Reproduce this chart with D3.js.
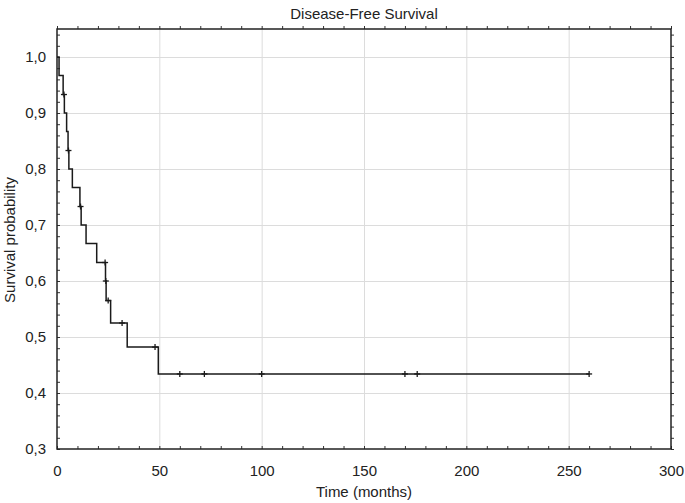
<!DOCTYPE html>
<html>
<head>
<meta charset="utf-8">
<script src="https://cdn.jsdelivr.net/npm/d3@7"></script>
<style>
  body { margin: 0; background: #fff; }
  svg text { font-family: "Liberation Sans", Arial, sans-serif; fill: #222; }
</style>
</head>
<body>
<div id="chart"></div>
<script>
// Kaplan-Meier steps: time (months) and survival after the drop
var stepTimes = [0, 1, 3, 3.6, 4.7, 5.4, 5.8, 7.5, 11.2, 11.8, 14.2, 19.4, 23.7, 24.0, 26.2, 34.3, 49.5];
var stepSurv  = [1.0, 0.967, 0.933, 0.9, 0.867, 0.833, 0.8, 0.767, 0.733, 0.7, 0.667, 0.633, 0.6, 0.565, 0.525, 0.482, 0.434];
var lastTime = 260;
// censored observations (+ marks)
var censorTimes = [3.4, 5.6, 11.5, 23.5, 23.85, 25, 31.8, 47.9, 60, 72, 100, 170, 176, 260];

var xTicks = [0, 50, 100, 150, 200, 250, 300];
var yTicks = [0.3, 0.4, 0.5, 0.6, 0.7, 0.8, 0.9, 1.0];

const width = 685
const height = 503
const margin = ({top: 29, right: 14, bottom: 54, left: 57})

var x = d3.scaleLinear().domain([0, 300]).range([margin.left, width - margin.right])
var y = d3.scaleLinear().domain([0.3, 1.05]).range([height - margin.bottom, margin.top])

var locale = d3.formatLocale({decimal: ",", thousands: ".", grouping: [3], currency: ["", ""]});
var fmt = locale.format(".1f");

const svg = d3.select('#chart').append('svg').attr('width', width).attr('height', height);

var iw = x.range()[1] - x.range()[0];
var ih = y.range()[0] - y.range()[1];

// grid lines
svg.append('g')
  .attr('transform', `translate(0, ${y.range()[0]})`)
  .call(d3.axisBottom(x).tickValues(xTicks.slice(1, -1)).tickSize(-ih).tickFormat(''))
  .call(g => g.select('.domain').remove())
  .call(g => g.selectAll('line').attr('stroke', '#dcdcdc'));
svg.append('g')
  .attr('transform', `translate(${x.range()[0]}, 0)`)
  .call(d3.axisLeft(y).tickValues(yTicks.slice(1)).tickSize(-iw).tickFormat(''))
  .call(g => g.select('.domain').remove())
  .call(g => g.selectAll('line').attr('stroke', '#dcdcdc'));

// minor + major ticks on all four sides, pointing inward
var xMinor = d3.range(0, 301, 10);
var yMinor = d3.range(0.3, 1.051, 0.02);
function ticksX(sign, ypos) {
  svg.append('g').attr('transform', `translate(0, ${ypos})`)
    .call((sign > 0 ? d3.axisBottom(x) : d3.axisTop(x)).tickValues(xMinor).tickSize(-3 * sign).tickFormat(''))
    .call(g => g.select('.domain').remove())
    .call(g => g.selectAll('line').attr('stroke', '#333'));
}
function ticksY(sign, xpos) {
  svg.append('g').attr('transform', `translate(${xpos}, 0)`)
    .call((sign > 0 ? d3.axisLeft(y) : d3.axisRight(y)).tickValues(yMinor).tickSize(-3 * sign).tickFormat(''))
    .call(g => g.select('.domain').remove())
    .call(g => g.selectAll('line').attr('stroke', '#333'));
}
ticksX(1, y.range()[0]);
ticksX(-1, y.range()[1]);
ticksY(1, x.range()[0]);
ticksY(-1, x.range()[1]);

// frame
svg.append('rect')
  .attr('x', x.range()[0]).attr('y', y.range()[1])
  .attr('width', iw).attr('height', ih)
  .attr('fill', 'none').attr('stroke', '#222').attr('stroke-width', 1.5);

// tick labels
svg.append('g')
  .attr('transform', `translate(0, ${y.range()[0]})`)
  .call(d3.axisBottom(x).tickValues(xTicks).tickSize(0).tickPadding(16).tickFormat(d3.format('d')))
  .call(g => g.select('.domain').remove())
  .call(g => g.selectAll('text').attr('font-size', 15).attr('font-family', null).attr('fill', '#222'));
svg.append('g')
  .attr('transform', `translate(${x.range()[0]}, 0)`)
  .call(d3.axisLeft(y).tickValues(yTicks).tickSize(0).tickPadding(11).tickFormat(fmt))
  .call(g => g.select('.domain').remove())
  .call(g => g.selectAll('text').attr('font-size', 15).attr('font-family', null).attr('fill', '#222'));

// survival curve
var pts = stepTimes.map((t, i) => [t, stepSurv[i]]);
pts.push([lastTime, stepSurv[stepSurv.length - 1]]);
var line = d3.line().x(d => x(d[0])).y(d => y(d[1])).curve(d3.curveStepAfter);
svg.append('path')
  .attr('d', line(pts))
  .attr('fill', 'none')
  .attr('stroke', '#1a1a1a')
  .attr('stroke-width', 1.5);

// censor marks
function survAt(t) {
  var i = d3.bisectRight(stepTimes, t) - 1;
  return stepSurv[Math.max(0, i)];
}
var marks = svg.append('g').attr('stroke', '#1a1a1a').attr('stroke-width', 1.3);
censorTimes.forEach(function(t) {
  var cx = x(t), cy = y(survAt(t));
  marks.append('line').attr('x1', cx - 3).attr('x2', cx + 3).attr('y1', cy).attr('y2', cy);
  marks.append('line').attr('x1', cx).attr('x2', cx).attr('y1', cy - 3).attr('y2', cy + 3);
});

// titles
svg.append('text')
  .attr('x', (x.range()[0] + x.range()[1]) / 2).attr('y', 19)
  .attr('text-anchor', 'middle').attr('font-size', 15)
  .text('Disease-Free Survival');
svg.append('text')
  .attr('x', (x.range()[0] + x.range()[1]) / 2).attr('y', 497)
  .attr('text-anchor', 'middle').attr('font-size', 15)
  .text('Time (months)');
svg.append('text')
  .attr('transform', `translate(15, 240) rotate(-90)`)
  .attr('text-anchor', 'middle').attr('font-size', 15)
  .text('Survival probability');
</script>
</body>
</html>
